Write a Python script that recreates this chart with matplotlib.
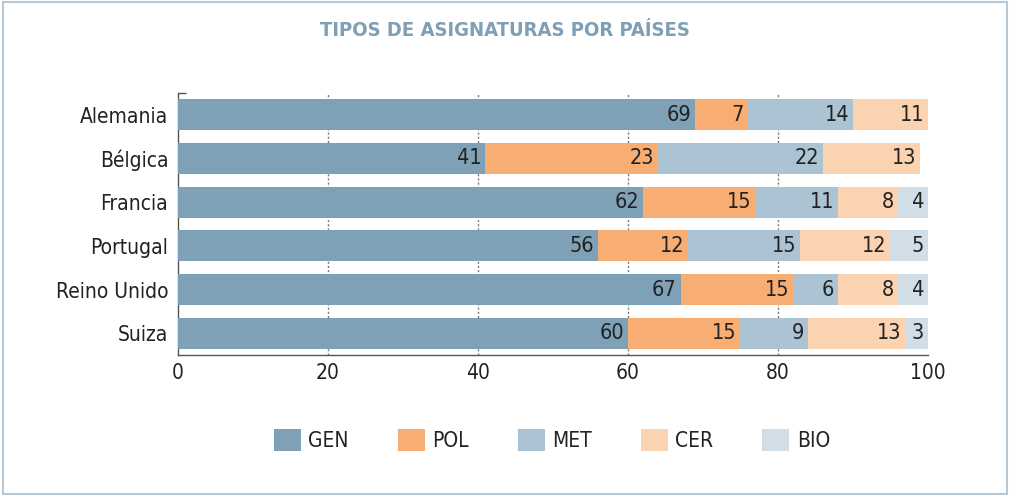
import matplotlib
matplotlib.use("Agg")
import matplotlib.pyplot as plt
from matplotlib.patches import Rectangle
import numpy as np

plt.rcParams['font.family'] = ['DejaVu Sans']
plt.rcParams['font.stretch'] = 'condensed'

countries = ["Alemania", "Bélgica", "Francia", "Portugal", "Reino Unido", "Suiza"]
series = ["GEN", "POL", "MET", "CER", "BIO"]
GEN = [69, 41, 62, 56, 67, 60]
POL = [7, 23, 15, 12, 15, 15]
MET = [14, 22, 11, 15, 6, 9]
CER = [11, 13, 8, 12, 8, 13]
BIO = [0, 0, 4, 5, 4, 3]
colors = ["#7fa1b7", "#f8ad72", "#abc3d3", "#fcd3b0", "#d2dee7"]
xticks = [0, 20, 40, 60, 80, 100]

fig = plt.figure(figsize=(10.1, 4.95), dpi=100)
fig.patches.append(Rectangle((0.003, 0.003), 0.994, 0.992, transform=fig.transFigure,
                             fill=False, edgecolor="#b8c8d4", linewidth=1.5))
ax = fig.add_axes([178/1010, 1-355/495, (928-178)/1010, (355-93)/495])

y = np.arange(len(countries))
left = np.zeros(len(countries))
data = [GEN, POL, MET, CER, BIO]
for name, vals, c in zip(series, data, colors):
    vals = np.array(vals, dtype=float)
    ax.barh(y, vals, left=left, height=0.71, color=c, label=name, zorder=3)
    for yi, v, l in zip(y, vals, left):
        if v > 0:
            ax.text(min(l + v, 100) - 0.5, yi, f"{int(v)}", ha="right", va="center",
                    fontsize=15.5, color="#222222", zorder=4)
    left += vals

ax.set_xlim(0, 100)
ax.set_ylim(len(countries) - 0.5, -0.5)
ax.set_yticks(y)
ax.set_yticklabels(countries, fontsize=15, color="#222222")
ax.set_xticks(xticks)
ax.set_xticklabels([str(t) for t in xticks], fontsize=15, color="#222222")
ax.tick_params(axis="both", which="major", length=0, pad=6)
ax.tick_params(axis="y", which="major", pad=7)
# end caps on spines
ax.set_xticks([100], minor=True)
ax.set_yticks([-0.5], minor=True)
ax.tick_params(axis="x", which="minor", direction="in", length=6, color="#555555", width=1)
ax.tick_params(axis="y", which="minor", direction="in", length=6, color="#555555", width=1)
for s in ["top", "right"]:
    ax.spines[s].set_visible(False)
for s in ["left", "bottom"]:
    ax.spines[s].set_color("#555555")
    ax.spines[s].set_linewidth(1.0)
ax.grid(axis="x", which="major", linestyle=(0, (1.5, 1.5)), color="#777777", linewidth=1.0, zorder=0)
gl = ax.xaxis.get_gridlines()
gl[0].set_visible(False)
gl[-1].set_visible(False)
ax.set_axisbelow(True)

fig.text(0.5, 1-30/495, "TIPOS DE ASIGNATURAS POR PAÍSES", ha="center", va="center",
         fontsize=14.5, fontweight="bold", color="#7f9fb5")

leg = fig.legend(loc="center", bbox_to_anchor=(552/1010, 1-440/495), ncol=5, frameon=False,
                 fontsize=15, handlelength=1.3, handleheight=1.25, columnspacing=2.35,
                 handletextpad=0.35)
for t in leg.get_texts():
    t.set_color("#222222")

fig.savefig("out.png", dpi=100)
